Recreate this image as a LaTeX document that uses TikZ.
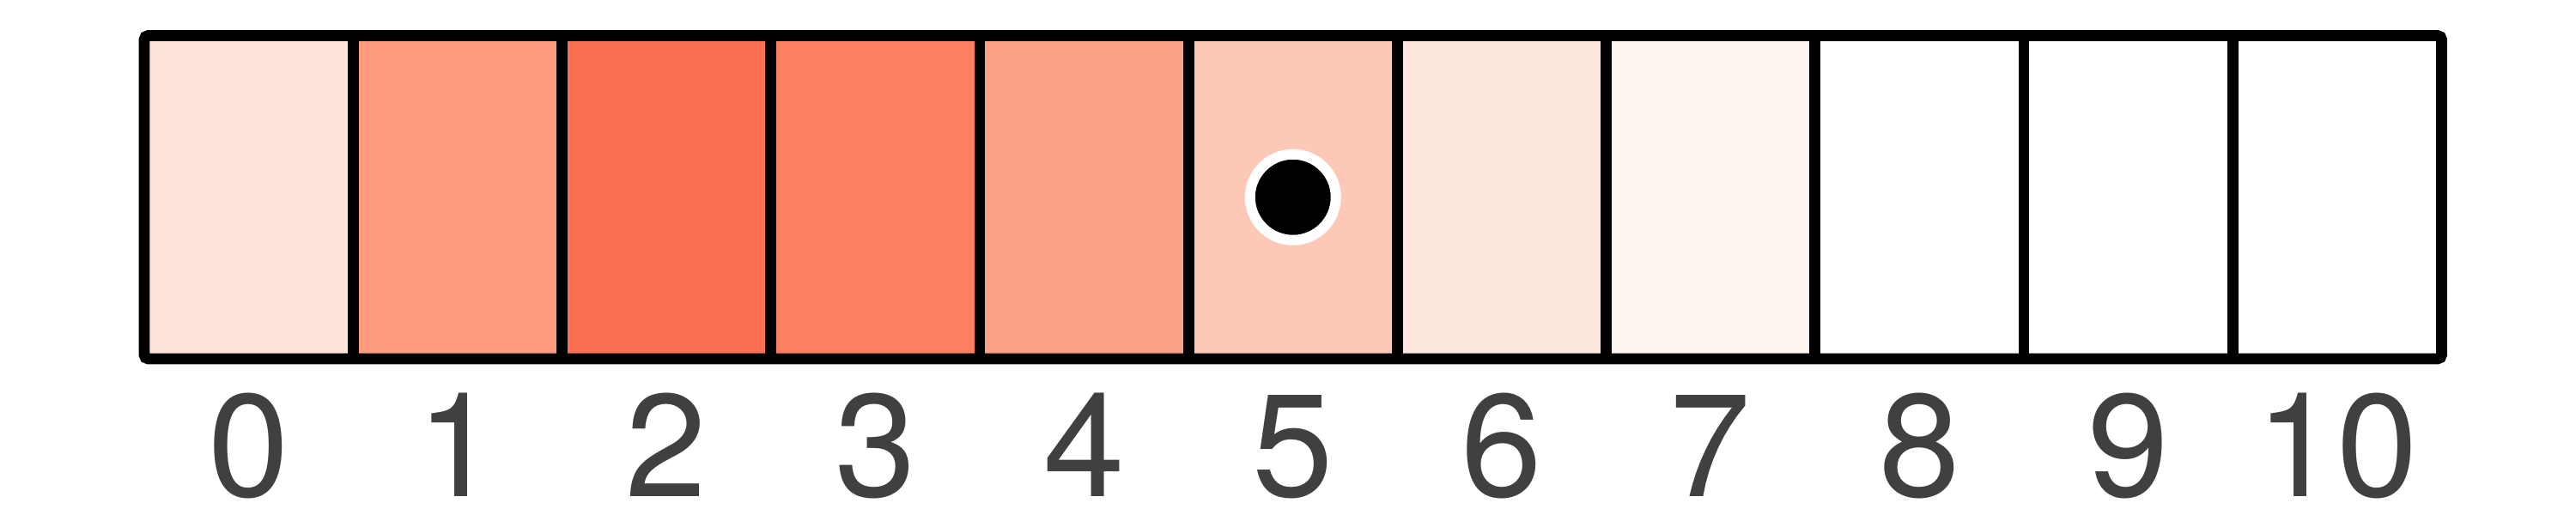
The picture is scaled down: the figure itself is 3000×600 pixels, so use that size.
\documentclass[tikz,border=0pt]{standalone}
\usepackage{fontspec}
\setmainfont{TeX Gyre Heros}
\definecolor{cA}{HTML}{FEE4DA}
\definecolor{cB}{HTML}{FC9B7E}
\definecolor{cC}{HTML}{FB6F52}
\definecolor{cD}{HTML}{FC7F60}
\definecolor{cE}{HTML}{FCA185}
\definecolor{cF}{HTML}{FDC9B6}
\definecolor{cG}{HTML}{FEE7DF}
\definecolor{cH}{HTML}{FFF5F1}
\definecolor{cI}{HTML}{FFFFFF}
\definecolor{labelgray}{HTML}{404040}
\begin{document}
\begin{tikzpicture}[x=0.25pt,y=-0.25pt,
  cell/.style={draw=none,inner sep=0pt,minimum width=60.8pt,minimum height=94.1pt},
  divider/.style={line width=3.2pt},
  frame/.style={line width=3.2pt,rounded corners=1.2pt},
  idx/.style={font=\fontsize{42.5}{48}\selectfont,text=labelgray,anchor=base,inner sep=2pt},
  dot/.style={circle,fill=black,draw=white,line width=3pt,minimum size=25pt,inner sep=0pt}]
\useasboundingbox (0,0) rectangle (3000,600);
\foreach \i/\c in {0/cA,1/cB,2/cC,3/cD,4/cE,5/cF,6/cG,7/cH,8/cI,9/cI,10/cI}{
  \node[cell,fill=\c] (cell\i) at ({168+(\i+0.5)*243.23},229.75) {};
  \node[idx] (lab\i) at ({168+(\i+0.5)*243.23},578) {\i};
}
\foreach \i in {1,...,10}{
  \draw[divider] ({168+\i*243.23},41.5) -- ({168+\i*243.23},418);
}
\draw[frame] (168,41.5) rectangle (2843.5,418);
\node[dot] (marker) at (cell5) {};
\end{tikzpicture}
\end{document}
